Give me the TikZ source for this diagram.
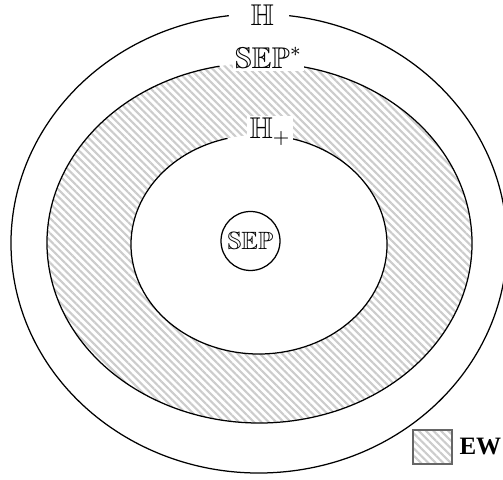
\documentclass[tikz,border=0pt]{standalone}
\usepackage{amssymb}
\usepackage{fontspec}
\newfontfamily\timesfont{Liberation Serif}
\usetikzlibrary{patterns.meta,shapes.geometric}
\tikzset{
  ring/.style={line width=0.5pt},
  hatch/.style={pattern={Lines[angle=-45,distance=2.1pt,line width=0.85pt]},pattern color=black!20},
  lbl/.style={fill=white,inner sep=1pt,anchor=base west},
}
\begin{document}
\begin{tikzpicture}
\useasboundingbox (0,0) rectangle (201.2pt,192pt);
% H outer
\draw[ring] (103.6pt,94.6pt) ++(97:99.2pt and 91.8pt) arc[start angle=97,end angle=443,x radius=99.2pt,y radius=91.8pt];
% SEP* hatched
\fill[hatch] (103.8pt,94.8pt) ellipse[x radius=85pt,y radius=72pt];
\draw[ring] (103.8pt,94.8pt) ++(100.85:85pt and 72pt) arc[start angle=100.85,end angle=439.15,x radius=85pt,y radius=72pt];
% H+
\fill[white] (103.6pt,94.2pt) ellipse[x radius=51.2pt,y radius=43.8pt];
\draw[ring] (103.6pt,94.2pt) ++(104.25:51.2pt and 43.8pt) arc[start angle=104.25,end angle=435.75,x radius=51.2pt,y radius=43.8pt];
% SEP
\node[circle,draw,ring,minimum size=23.6pt,inner sep=0pt] (sep) at (100.2pt,95.6pt) {$\mathbb{SEP}$};
% labels
\node[lbl,inner sep=0pt] (lH) at (100pt,181.6pt) {\large$\mathbb{H}$};
\node[lbl] (lSEPs) at (92.8pt,164.4pt) {\large$\mathbb{SEP}^*$};
\node[lbl] (lHp) at (98.6pt,136.4pt) {\large$\mathbb{H}_+$};
% legend
\node[hatch,draw=black!60,ring,minimum width=15.6pt,minimum height=13.6pt,inner sep=0pt] (key) at (173pt,13.2pt) {};
\node[anchor=base west,inner sep=0pt] (ew) at (183.6pt,10pt) {\timesfont\bfseries EW};
\end{tikzpicture}
\end{document}
